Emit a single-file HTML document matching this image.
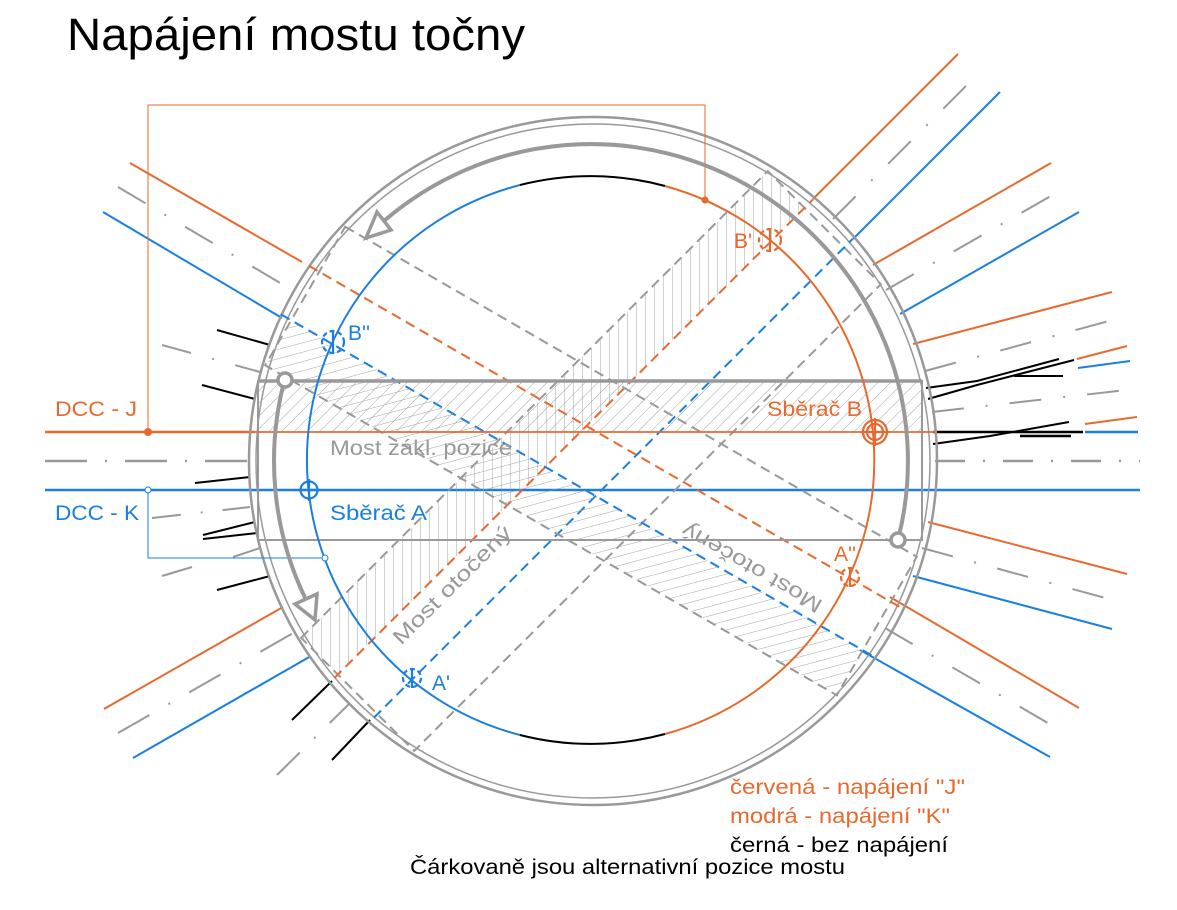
<!DOCTYPE html>
<html><head><meta charset="utf-8"><style>
html,body{margin:0;padding:0;background:#fff;}
svg{display:block;font-family:"Liberation Sans",Arial,sans-serif;}
</style></head><body>
<svg width="1177" height="910" viewBox="0 0 1177 910" xmlns="http://www.w3.org/2000/svg">
<defs>
<pattern id="h" patternUnits="userSpaceOnUse" width="9" height="20" patternTransform="rotate(45)"><line x1="0" y1="0" x2="0" y2="20" stroke="#999" stroke-width="0.9"/></pattern>
</defs>
<rect width="1177" height="910" fill="#fff"/>
<text x="67" y="50" font-size="45" fill="#000" textLength="458" lengthAdjust="spacingAndGlyphs">Napájení mostu točny</text>

<!-- outer tracks -->
<g stroke-width="2" fill="none">
<line x1="45" y1="432" x2="255" y2="432" stroke="#E8692E" stroke-width="2.5"/>
<line x1="45" y1="490" x2="1140" y2="490" stroke="#1A7FE0" stroke-width="2.5"/>
<line x1="45" y1="461" x2="250" y2="461" stroke="#999" stroke-width="2.5" stroke-dasharray="42 18 2 18"/>
<line x1="935" y1="461" x2="1140" y2="461" stroke="#999" stroke-width="2.5" stroke-dasharray="30 18 2 18"/>
<line x1="813" y1="199" x2="958" y2="54" stroke="#E8692E"/>
<line x1="853" y1="239" x2="1000" y2="92" stroke="#1A7FE0"/>
<line x1="833" y1="219" x2="976" y2="76" stroke="#999" stroke-dasharray="32 22 2 22"/>
<line x1="873" y1="265" x2="1051" y2="163" stroke="#E8692E"/>
<line x1="900" y1="314" x2="1079" y2="212" stroke="#1A7FE0"/>
<line x1="886" y1="290" x2="1065" y2="188" stroke="#999" stroke-dasharray="32 22 2 22"/>
<line x1="913" y1="344" x2="1112" y2="292" stroke="#E8692E"/>
<line x1="925" y1="371" x2="1120" y2="318" stroke="#999" stroke-dasharray="32 22 2 22"/>
<polyline points="926,388 977,381 1059,359" stroke="#000"/>
<polyline points="928,399 977,385 1074,360" stroke="#000"/>
<line x1="1014" y1="376" x2="1063" y2="376" stroke="#000"/>
<line x1="1077" y1="359" x2="1127" y2="346" stroke="#E8692E"/>
<line x1="1078" y1="368" x2="1130" y2="361" stroke="#1A7FE0"/>
<line x1="932" y1="412" x2="1135" y2="389" stroke="#999" stroke-dasharray="32 22 2 22"/>
<line x1="933" y1="432" x2="1083" y2="432" stroke="#000" stroke-width="2.5"/>
<polyline points="933,444 990,436 1069,422" stroke="#000"/>
<line x1="1020" y1="436" x2="1071" y2="436" stroke="#000" stroke-width="2.5"/>
<line x1="1085" y1="424" x2="1137" y2="417" stroke="#E8692E"/>
<line x1="1085" y1="432" x2="1138" y2="432" stroke="#1A7FE0" stroke-width="2.5"/>
<line x1="928" y1="522" x2="1127" y2="574" stroke="#E8692E"/>
<line x1="913" y1="576" x2="1112" y2="629" stroke="#1A7FE0"/>
<line x1="922" y1="548" x2="1120" y2="602" stroke="#999" stroke-dasharray="32 22 2 22"/>
<line x1="890" y1="597" x2="1079" y2="708" stroke="#E8692E"/>
<line x1="860" y1="650" x2="1050" y2="757" stroke="#1A7FE0"/>
<line x1="885" y1="628" x2="1065" y2="733" stroke="#999" stroke-dasharray="32 22 2 22"/>
<line x1="130" y1="163" x2="302" y2="262" stroke="#E8692E"/>
<line x1="103" y1="212" x2="282" y2="318" stroke="#1A7FE0"/>
<line x1="118" y1="187" x2="292" y2="290" stroke="#999" stroke-dasharray="32 22 2 22"/>
<line x1="217" y1="330" x2="270" y2="345" stroke="#000"/>
<line x1="162" y1="345" x2="260" y2="372" stroke="#999" stroke-dasharray="30 22 2 22"/>
<line x1="202" y1="385" x2="255" y2="399" stroke="#000"/>
<line x1="195" y1="483" x2="250" y2="477" stroke="#000"/>
<line x1="152" y1="518" x2="250" y2="507" stroke="#999" stroke-dasharray="29 20 2 20"/>
<line x1="203" y1="535" x2="255" y2="522" stroke="#000"/>
<line x1="203" y1="539" x2="257" y2="533" stroke="#000"/>
<line x1="233" y1="557" x2="260" y2="548" stroke="#999"/>
<line x1="162" y1="576" x2="192" y2="567" stroke="#999"/>
<line x1="217" y1="590" x2="270" y2="576" stroke="#000"/>
<line x1="104" y1="709" x2="283" y2="607" stroke="#E8692E"/>
<line x1="133" y1="758" x2="311" y2="656" stroke="#1A7FE0"/>
<line x1="118" y1="733" x2="295" y2="632" stroke="#999" stroke-dasharray="36 22 2 22"/>
<line x1="292" y1="720" x2="332" y2="681" stroke="#000"/>
<line x1="332" y1="760" x2="370" y2="720" stroke="#000"/>
<line x1="277" y1="775" x2="350" y2="703" stroke="#999" stroke-dasharray="32 20 2 20"/>
</g>

<circle cx="593" cy="461" r="344" fill="none" stroke="#999" stroke-width="2.5"/>
<circle cx="593" cy="461" r="337" fill="none" stroke="#999" stroke-width="1.5"/>

<g transform="translate(591,461) rotate(-45)">
<rect x="-330" y="-80" width="660" height="52" fill="url(#h)"/>
<rect x="-330" y="-80" width="660" height="160" fill="none" stroke="#999" stroke-width="2" stroke-dasharray="10 6"/>
<line x1="-335" y1="-28" x2="342" y2="-28" stroke="#E8692E" stroke-width="2" stroke-dasharray="10 6"/>
<line x1="-335" y1="28" x2="342" y2="28" stroke="#1A7FE0" stroke-width="2" stroke-dasharray="10 6"/>
</g>
<g transform="translate(591,461) rotate(30)">
<rect x="-330" y="28" width="660" height="52" fill="url(#h)"/>
<rect x="-330" y="-80" width="660" height="160" fill="none" stroke="#999" stroke-width="2" stroke-dasharray="10 6"/>
<line x1="-342" y1="-28" x2="342" y2="-28" stroke="#E8692E" stroke-width="2" stroke-dasharray="10 6"/>
<line x1="-342" y1="28" x2="342" y2="28" stroke="#1A7FE0" stroke-width="2" stroke-dasharray="10 6"/>
</g>

<rect x="258" y="381" width="664" height="51" fill="url(#h)"/>
<rect x="258" y="381" width="664" height="159" fill="none" stroke="#999" stroke-width="2"/>
<line x1="258" y1="381" x2="922" y2="381" stroke="#999" stroke-width="3.5"/>
<line x1="255" y1="432" x2="935" y2="432" stroke="#E8692E" stroke-width="1.8"/>

<g fill="none" stroke-width="2">
<path d="M520,185 A284,284 0 0 0 520,735" stroke="#1A7FE0"/>
<path d="M520,185 A284,284 0 0 1 665,186" stroke="#000"/>
<path d="M665,186 A284,284 0 0 1 665,734" stroke="#E8692E"/>
<path d="M665,734 A284,284 0 0 1 520,735" stroke="#000"/>
</g>

<polyline points="148,432 148,105 705,105 705,200" fill="none" stroke="#E8692E" stroke-width="1"/>
<polyline points="148,490 148,558 325,558" fill="none" stroke="#1A7FE0" stroke-width="1"/>
<circle cx="148" cy="432" r="4" fill="#E8692E"/>
<circle cx="705" cy="200" r="3.5" fill="#E8692E"/>
<circle cx="148" cy="490" r="3" fill="#fff" stroke="#1A7FE0" stroke-width="1"/>
<circle cx="325" cy="558" r="3" fill="#fff" stroke="#1A7FE0" stroke-width="1"/>

<g stroke="#999" stroke-width="4" fill="none">
<path d="M383,221.8 A317,317 0 0 1 898,539.8"/>
<path d="M284.8,379 A317,317 0 0 0 306.1,600"/>
</g>
<polygon points="366,238 391,230 377,212" fill="#fff" stroke="#999" stroke-width="3.5"/>
<polygon points="315,620 317,594 295,604" fill="#fff" stroke="#999" stroke-width="3.5"/>
<circle cx="898" cy="540" r="7" fill="#fff" stroke="#999" stroke-width="3.5"/>
<circle cx="285" cy="380" r="7" fill="#fff" stroke="#999" stroke-width="3.5"/>

<g fill="none" stroke-width="2.2">
<circle cx="309" cy="490" r="8.5" stroke="#1A7FE0"/>
<line x1="309" y1="479" x2="309" y2="501" stroke="#1A7FE0"/>
<line x1="298" y1="490" x2="320" y2="490" stroke="#1A7FE0"/>
<circle cx="875" cy="432" r="12" stroke="#E8692E"/>
<circle cx="875" cy="432" r="8" stroke="#E8692E"/>
<line x1="875" y1="418" x2="875" y2="446" stroke="#E8692E"/>
<line x1="861" y1="432" x2="889" y2="432" stroke="#E8692E"/>
<circle cx="770" cy="240" r="11" stroke="#E8692E" stroke-dasharray="5 3"/>
<line x1="770" y1="228" x2="770" y2="252" stroke="#E8692E"/>
<circle cx="333" cy="342" r="11" stroke="#1A7FE0" stroke-dasharray="5 3"/>
<line x1="333" y1="330" x2="333" y2="354" stroke="#1A7FE0"/>
<circle cx="412" cy="678" r="9" stroke="#1A7FE0" stroke-dasharray="5 3"/>
<line x1="412" y1="668" x2="412" y2="688" stroke="#1A7FE0"/>
<circle cx="850" cy="577" r="9" stroke="#E8692E" stroke-dasharray="5 3"/>
<line x1="850" y1="567" x2="850" y2="587" stroke="#E8692E"/>
</g>

<g font-size="21">
<text x="55" y="416" fill="#E8692E" textLength="82" lengthAdjust="spacingAndGlyphs">DCC - J</text>
<text x="55" y="520" fill="#1A7FE0" textLength="84" lengthAdjust="spacingAndGlyphs">DCC - K</text>
<text x="767" y="416" fill="#E8692E" textLength="95" lengthAdjust="spacingAndGlyphs">Sběrač B</text>
<text x="330" y="455" fill="#999" textLength="182" lengthAdjust="spacingAndGlyphs">Most zákl. pozice</text>
<text x="330" y="520" fill="#1A7FE0" textLength="97" lengthAdjust="spacingAndGlyphs">Sběrač A</text>
<text x="734" y="248" fill="#E8692E">B'</text>
<text x="348" y="340" fill="#1A7FE0">B''</text>
<text x="432" y="690" fill="#1A7FE0">A'</text>
<text x="834" y="561" fill="#E8692E">A''</text>
<text transform="translate(452,585) rotate(-45)" text-anchor="middle" y="7" fill="#999" textLength="158" lengthAdjust="spacingAndGlyphs">Most otočený</text>
<text transform="translate(752,568) rotate(210)" text-anchor="middle" y="7" fill="#999" textLength="158" lengthAdjust="spacingAndGlyphs">Most otočený</text>
<text x="730" y="794" fill="#E8692E" textLength="235" lengthAdjust="spacingAndGlyphs">červená - napájení "J"</text>
<text x="730" y="823" fill="#E8692E" textLength="220" lengthAdjust="spacingAndGlyphs">modrá - napájení "K"</text>
<text x="730" y="852" fill="#000" textLength="218" lengthAdjust="spacingAndGlyphs">černá - bez napájení</text>
<text x="410" y="874" fill="#000" textLength="435" lengthAdjust="spacingAndGlyphs">Čárkovaně jsou alternativní pozice mostu</text>
</g>
</svg>
</body></html>
